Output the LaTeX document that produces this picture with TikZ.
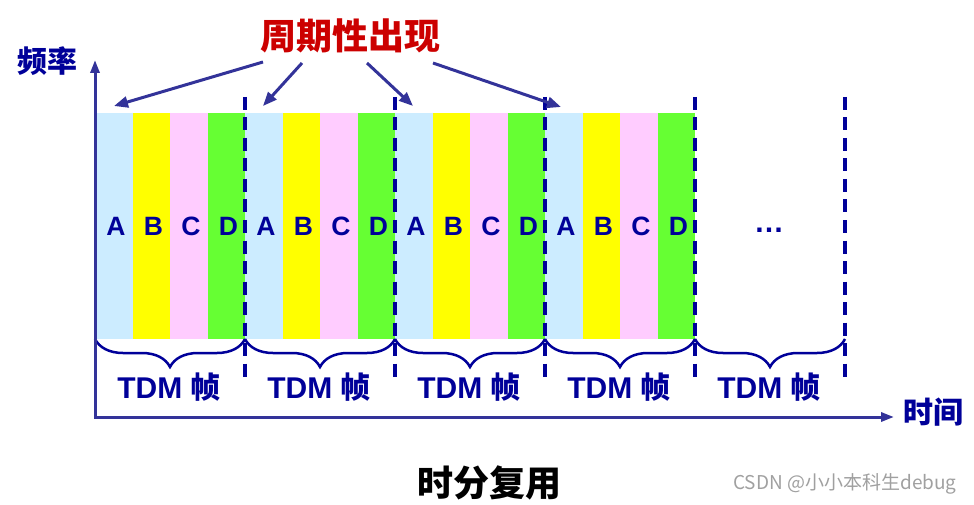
\documentclass[tikz,border=0pt]{standalone}
\usepackage{fontspec}
\setmainfont{Liberation Sans}
\newfontfamily\cjk{Noto Sans CJK SC}
\usetikzlibrary{arrows.meta,decorations.pathreplacing}
\definecolor{navy}{HTML}{000099}
\definecolor{axiscol}{HTML}{333399}
\definecolor{sa}{HTML}{CCECFF}
\definecolor{sb}{HTML}{FFFF00}
\definecolor{sc}{HTML}{FFCCFF}
\definecolor{sd}{HTML}{66FF33}
\definecolor{redt}{HTML}{CC0000}
\definecolor{wm}{HTML}{A0A0A0}
\tikzset{axtip/.tip={Triangle[length=13pt,width=9pt]}}
\begin{document}
\begin{tikzpicture}[x=1pt,y=-1pt,
  slot/.style={fill=#1,minimum width=37.5pt,minimum height=226pt,inner sep=0pt,
    anchor=north west,text=navy,font=\fontsize{26.5}{26.5}\selectfont\bfseries},
  frameline/.style={navy,line width=3.5pt,dash pattern=on 13pt off 7.5pt},
  framebrace/.style={navy,line width=2.5pt,decorate,
    decoration={brace,amplitude=28pt,aspect=0.5}},
  tdm/.style={text=navy,font=\fontsize{30}{30}\selectfont\bfseries,inner sep=0pt},
  axisline/.style={axiscol,line width=3pt},
  callout/.style={axiscol,line width=3pt,-{Triangle[length=14pt,width=11pt]}},
  bluelabel/.style={text=navy,font=\fontsize{30}{30}\selectfont\cjk\bfseries,inner sep=0pt},
]
\useasboundingbox (0,0) rectangle (974,505);
% slots
\foreach \f in {0,1,2,3}{
  \foreach \l/\c [count=\k from 0] in {A/sa,B/sb,C/sc,D/sd}{
    \node[slot=\c] (s\f\l) at ({95+150*\f+37.5*\k},113) {\hspace*{4pt}\l};
  }
}
\node[text=navy,font=\fontsize{30}{30}\selectfont\bfseries,inner sep=0pt] (dots) at (769,230) {…};
% frame boundaries
\foreach \x in {245,395,545,695,845}{
  \draw[frameline] (\x,97) -- (\x,377);
}
% braces and labels
\foreach \f in {0,1,2,3,4}{
  \draw[framebrace] ({245+150*\f},339) -- ({95+150*\f},339);
  \node[tdm] (t\f) at ({169+150*\f},387) {TDM {\cjk\bfseries 帧}};
}
% axes
\coordinate (ytip) at (95,60);
\coordinate (orig) at (95,417);
\coordinate (xtip) at (894,417);
\draw[axisline,axtip-axtip] (ytip) -- (orig) -- (xtip);
\node[bluelabel] (freq) at (47,61) {频率};
\node[bluelabel] (time) at (933,412) {时间};
% callout
\node[text=redt,font=\fontsize{36}{36}\selectfont\cjk\bfseries,inner sep=0pt] (per) at (350,36) {周期性出现};
\coordinate (p1) at (263,62);
\coordinate (p2) at (302,63);
\coordinate (p3) at (367,63);
\coordinate (p4) at (433,63);
\coordinate (q1) at (114,106);
\coordinate (q2) at (263,106);
\coordinate (q3) at (413,106);
\coordinate (q4) at (561,107);
\foreach \i in {1,2,3,4}{
  \draw[callout] (p\i) -- (q\i);
}
% title and watermark
\node[text=black,font=\fontsize{36}{36}\selectfont\cjk\bfseries,inner sep=0pt] (title) at (489,483) {时分复用};
\node[text=wm,font=\fontsize{19}{19}\selectfont\cjk,inner sep=0pt] (mark) at (845,484) {CSDN @小小本科生debug};
\end{tikzpicture}
\end{document}
